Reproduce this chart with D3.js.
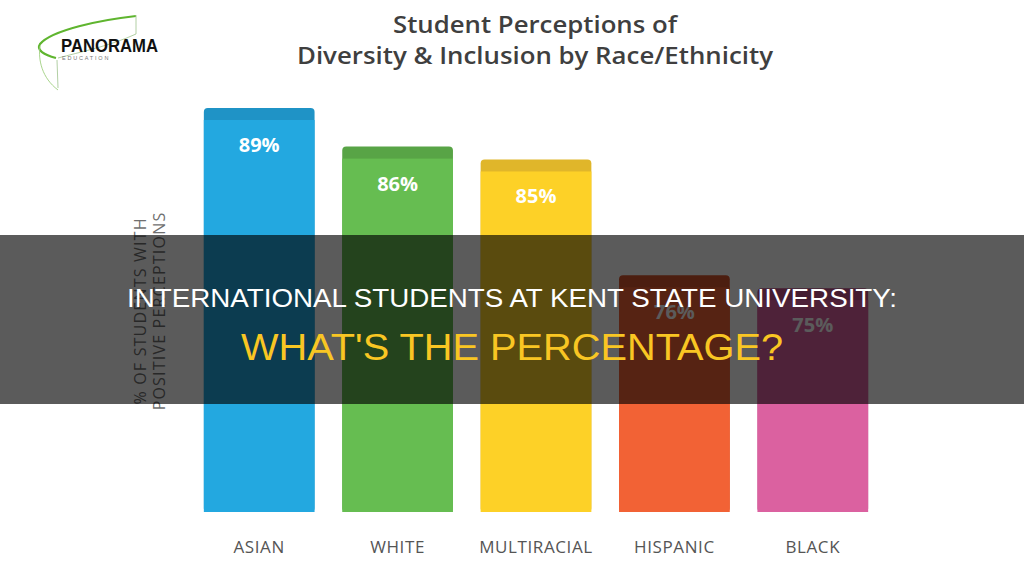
<!DOCTYPE html>
<html>
<head>
<meta charset="utf-8">
<script src="https://cdn.jsdelivr.net/npm/d3@7"></script>
<style>
  html, body { margin: 0; padding: 0; background: #ffffff; }
  svg { display: block; }
</style>
</head>
<body>
<div class="chart"></div>
<script>
// data
var categories = ["ASIAN", "WHITE", "MULTIRACIAL", "HISPANIC", "BLACK"];
var values = [89, 86, 85, 76, 75];
var barColors = ["#23a8e0", "#66bd51", "#fdd127", "#f26235", "#db61a0"];
var capColors = ["#1f93c6", "#58a446", "#e0b62a", "#d5542d", "#c0538a"];
var titleLines = ["Student Perceptions of", "Diversity & Inclusion by Race/Ethnicity"];
var axisLines = ["% OF STUDENTS WITH", "POSITIVE PERCEPTIONS"];
var bannerLines = ["INTERNATIONAL STUDENTS AT KENT STATE UNIVERSITY:", "WHAT'S THE PERCENTAGE?"];

(function () {
    var width = 1024, height = 572;
    var svg = d3.select(".chart").append("svg")
        .attr("width", width)
        .attr("height", height);

    var rows = categories.map(function (c, i) {
        return { name: c, value: values[i], color: barColors[i], cap: capColors[i] };
    });

    var x = d3.scaleBand()
        .domain(categories)
        .range([190, 882])
        .paddingInner(0.2)
        .paddingOuter(0.1);
    // the chart's baseline is not at zero
    var y = d3.scaleLinear()
        .domain([57.6, 89])
        .range([512, 108]);

    /*
        Logo
    */
    var logo = svg.append("g").attr("class", "logo");
    logo.append("path")
        .attr("d", "M136,16 C100,20 52,30 40,44 C36,50 44,55 56,58")
        .attr("fill", "none").attr("stroke", "#5fb52f").attr("stroke-width", 2.2);
    logo.append("path")
        .attr("d", "M40,46 C38,60 42,78 58,90")
        .attr("fill", "none").attr("stroke", "#9fcf7f").attr("stroke-width", 0.9);
    logo.append("path")
        .attr("d", "M136,15 L136,34 M57,60 L58,88 M58,58 C80,52 110,46 136,34")
        .attr("fill", "none").attr("stroke", "#a9c99a").attr("stroke-width", 0.9);
    logo.append("text")
        .attr("x", 61).attr("y", 52)
        .attr("font-family", "'Liberation Sans Narrow', 'Liberation Sans', Arial, sans-serif")
        .attr("font-size", 19)
        .attr("font-weight", 700)
        .attr("fill", "#111")
        .attr("textLength", 97)
        .attr("lengthAdjust", "spacingAndGlyphs")
        .text("PANORAMA");
    logo.append("text")
        .attr("x", 62).attr("y", 60)
        .attr("font-family", "'Liberation Sans', Arial, sans-serif")
        .attr("font-size", 5.5)
        .attr("fill", "#777")
        .attr("letter-spacing", 1.8)
        .text("EDUCATION");

    /*
        Title
    */
    var titleLen = [284, 476];
    svg.append("g").selectAll("text")
        .data(titleLines)
        .enter().append("text")
        .attr("x", 535)
        .attr("y", function (d, i) { return 33 + i * 31; })
        .attr("text-anchor", "middle")
        .attr("font-family", "'Open Sans', sans-serif")
        .attr("font-size", 24)
        .attr("font-weight", 600)
        .attr("fill", "#3f3f3f")
        .attr("textLength", function (d, i) { return titleLen[i]; })
        .attr("lengthAdjust", "spacingAndGlyphs")
        .text(function (d) { return d; });

    /*
        Axis label
    */
    svg.append("g")
        .attr("transform", "translate(146,311) rotate(-90)")
        .selectAll("text")
        .data(axisLines)
        .enter().append("text")
        .attr("x", 0)
        .attr("y", function (d, i) { return i * 19; })
        .attr("text-anchor", "middle")
        .attr("font-family", "'Open Sans', sans-serif")
        .attr("font-size", 16)
        .attr("letter-spacing", 1.2)
        .attr("fill", "#707070")
        .text(function (d) { return d; });

    /*
        Bars
    */
    var bars = svg.append("g").selectAll("g")
        .data(rows)
        .enter().append("g")
        .attr("class", "bar");
    bars.append("rect")
        .attr("x", function (d) { return x(d.name); })
        .attr("y", function (d) { return y(d.value); })
        .attr("width", x.bandwidth())
        .attr("height", function (d) { return y.range()[0] - y(d.value); })
        .attr("rx", 4)
        .attr("fill", function (d) { return d.cap; });
    bars.append("rect")
        .attr("x", function (d) { return x(d.name); })
        .attr("y", function (d) { return y(d.value) + 12; })
        .attr("width", x.bandwidth())
        .attr("height", function (d) { return y.range()[0] - y(d.value) - 12; })
        .attr("fill", function (d) { return d.color; });
    bars.append("text")
        .attr("x", function (d) { return x(d.name) + x.bandwidth() / 2; })
        .attr("y", function (d) { return y(d.value) + 44; })
        .attr("text-anchor", "middle")
        .attr("font-family", "'Open Sans', sans-serif")
        .attr("font-size", 20)
        .attr("font-weight", 700)
        .attr("fill", "#ffffff")
        .text(function (d) { return d.value + "%"; });

    /*
        Category labels
    */
    svg.append("g").selectAll("text")
        .data(categories)
        .enter().append("text")
        .attr("x", function (d) { return x(d) + x.bandwidth() / 2; })
        .attr("y", 553)
        .attr("text-anchor", "middle")
        .attr("font-family", "'Open Sans', sans-serif")
        .attr("font-size", 17)
        .attr("letter-spacing", 0.6)
        .attr("fill", "#555555")
        .text(function (d) { return d; });

    /*
        Banner overlay
    */
    svg.append("rect")
        .attr("x", 0).attr("y", 235)
        .attr("width", width).attr("height", 169)
        .attr("fill", "#000000")
        .attr("fill-opacity", 0.645);
    var bannerStyle = [
        { y: 307, size: 26, fill: "#ffffff", len: 770 },
        { y: 360, size: 37, fill: "#f9c623", len: 542 }
    ];
    svg.append("g").selectAll("text")
        .data(bannerLines)
        .enter().append("text")
        .attr("x", 512)
        .attr("y", function (d, i) { return bannerStyle[i].y; })
        .attr("text-anchor", "middle")
        .attr("font-family", "'Liberation Sans Narrow', 'Liberation Sans', Arial, sans-serif")
        .attr("font-size", function (d, i) { return bannerStyle[i].size; })
        .attr("fill", function (d, i) { return bannerStyle[i].fill; })
        .attr("textLength", function (d, i) { return bannerStyle[i].len; })
        .attr("lengthAdjust", "spacingAndGlyphs")
        .text(function (d) { return d; });
})();
</script>
</body>
</html>
